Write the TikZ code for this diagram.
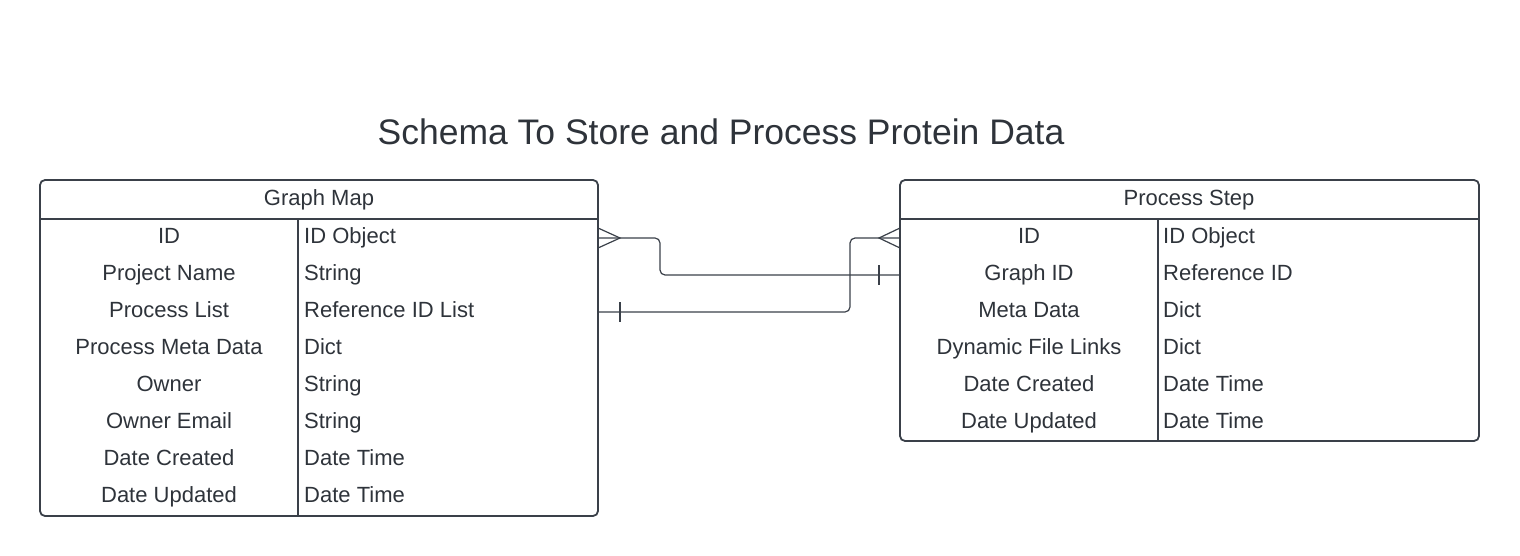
\documentclass[tikz,border=0pt]{standalone}
\usepackage{fontspec}
\setmainfont{Liberation Sans}
\usepackage{tikz}
\usepackage{xcolor}
\usetikzlibrary{positioning, calc}
\definecolor{linegray}{HTML}{3A4049}
\definecolor{textgray}{HTML}{2E333A}

\begin{document}
\begin{tikzpicture}[x=1pt, y=-1pt,
  every node/.style={text=textgray, inner sep=0pt, font=\fontsize{22}{26}\selectfont},
  tableframe/.style={draw=linegray, line width=1.8pt, rounded corners=5pt},
  tableline/.style={draw=linegray, line width=1.8pt},
  relation/.style={draw=linegray, line width=1.2pt, rounded corners=5pt}]
\useasboundingbox (0,0) rectangle (1520,556);

% Title
\node[anchor=base, font=\fontsize{35.5}{40}\selectfont] (title) at (721,145) {Schema To Store and Process Protein Data};

% Graph Map table
\draw[tableframe] (40,180) rectangle (598,516);
\draw[tableline] (40,219) -- (598,219);
\draw[tableline] (298,219) -- (298,516);
\node[anchor=base] (gm) at (319,205) {Graph Map};
\foreach \i/\name/\kind in {0/ID/ID Object, 1/Project Name/String,
    2/Process List/Reference ID List, 3/Process Meta Data/Dict,
    4/Owner/String, 5/Owner Email/String,
    6/Date Created/Date Time, 7/Date Updated/Date Time}
{
  \node[anchor=base] (gm-\i) at (169,243+37*\i) {\name};
  \node[anchor=base west] (gmt-\i) at (304,243+37*\i) {\kind};
}

% Process Step table
\draw[tableframe] (900,180) rectangle (1479,441);
\draw[tableline] (900,219) -- (1479,219);
\draw[tableline] (1158,219) -- (1158,441);
\node[anchor=base] (ps) at (1189,205) {Process Step};
\foreach \i/\name/\kind in {0/ID/ID Object, 1/Graph ID/Reference ID,
    2/Meta Data/Dict, 3/Dynamic File Links/Dict,
    4/Date Created/Date Time, 5/Date Updated/Date Time}
{
  \node[anchor=base] (ps-\i) at (1029,243+37*\i) {\name};
  \node[anchor=base west] (pst-\i) at (1163,243+37*\i) {\kind};
}

% Ends of the relations on the table edges
\coordinate (gm-many) at (598,238);
\coordinate (gm-one) at (598,312);
\coordinate (ps-many) at (900,238);
\coordinate (ps-one) at (900,275);

% Graph Map (many) to Process Step graph id (one)
\draw[relation] (gm-many) -- (660,238) -- (660,275) -- (ps-one);
\draw[linegray, line width=1.2pt] ($(gm-many)+(0,-10)$) -- ($(gm-many)+(22,0)$) -- ($(gm-many)+(0,10)$);
\draw[linegray, line width=1.2pt] ($(ps-one)+(-21,-10)$) -- ($(ps-one)+(-21,10)$);

% Process list (one) to Process Step (many)
\draw[relation] (gm-one) -- (850,312) -- (850,238) -- (ps-many);
\draw[linegray, line width=1.2pt] ($(gm-one)+(22,-10)$) -- ($(gm-one)+(22,10)$);
\draw[linegray, line width=1.2pt] ($(ps-many)+(0,-10)$) -- ($(ps-many)+(-21,0)$) -- ($(ps-many)+(0,10)$);
\end{tikzpicture}
\end{document}
